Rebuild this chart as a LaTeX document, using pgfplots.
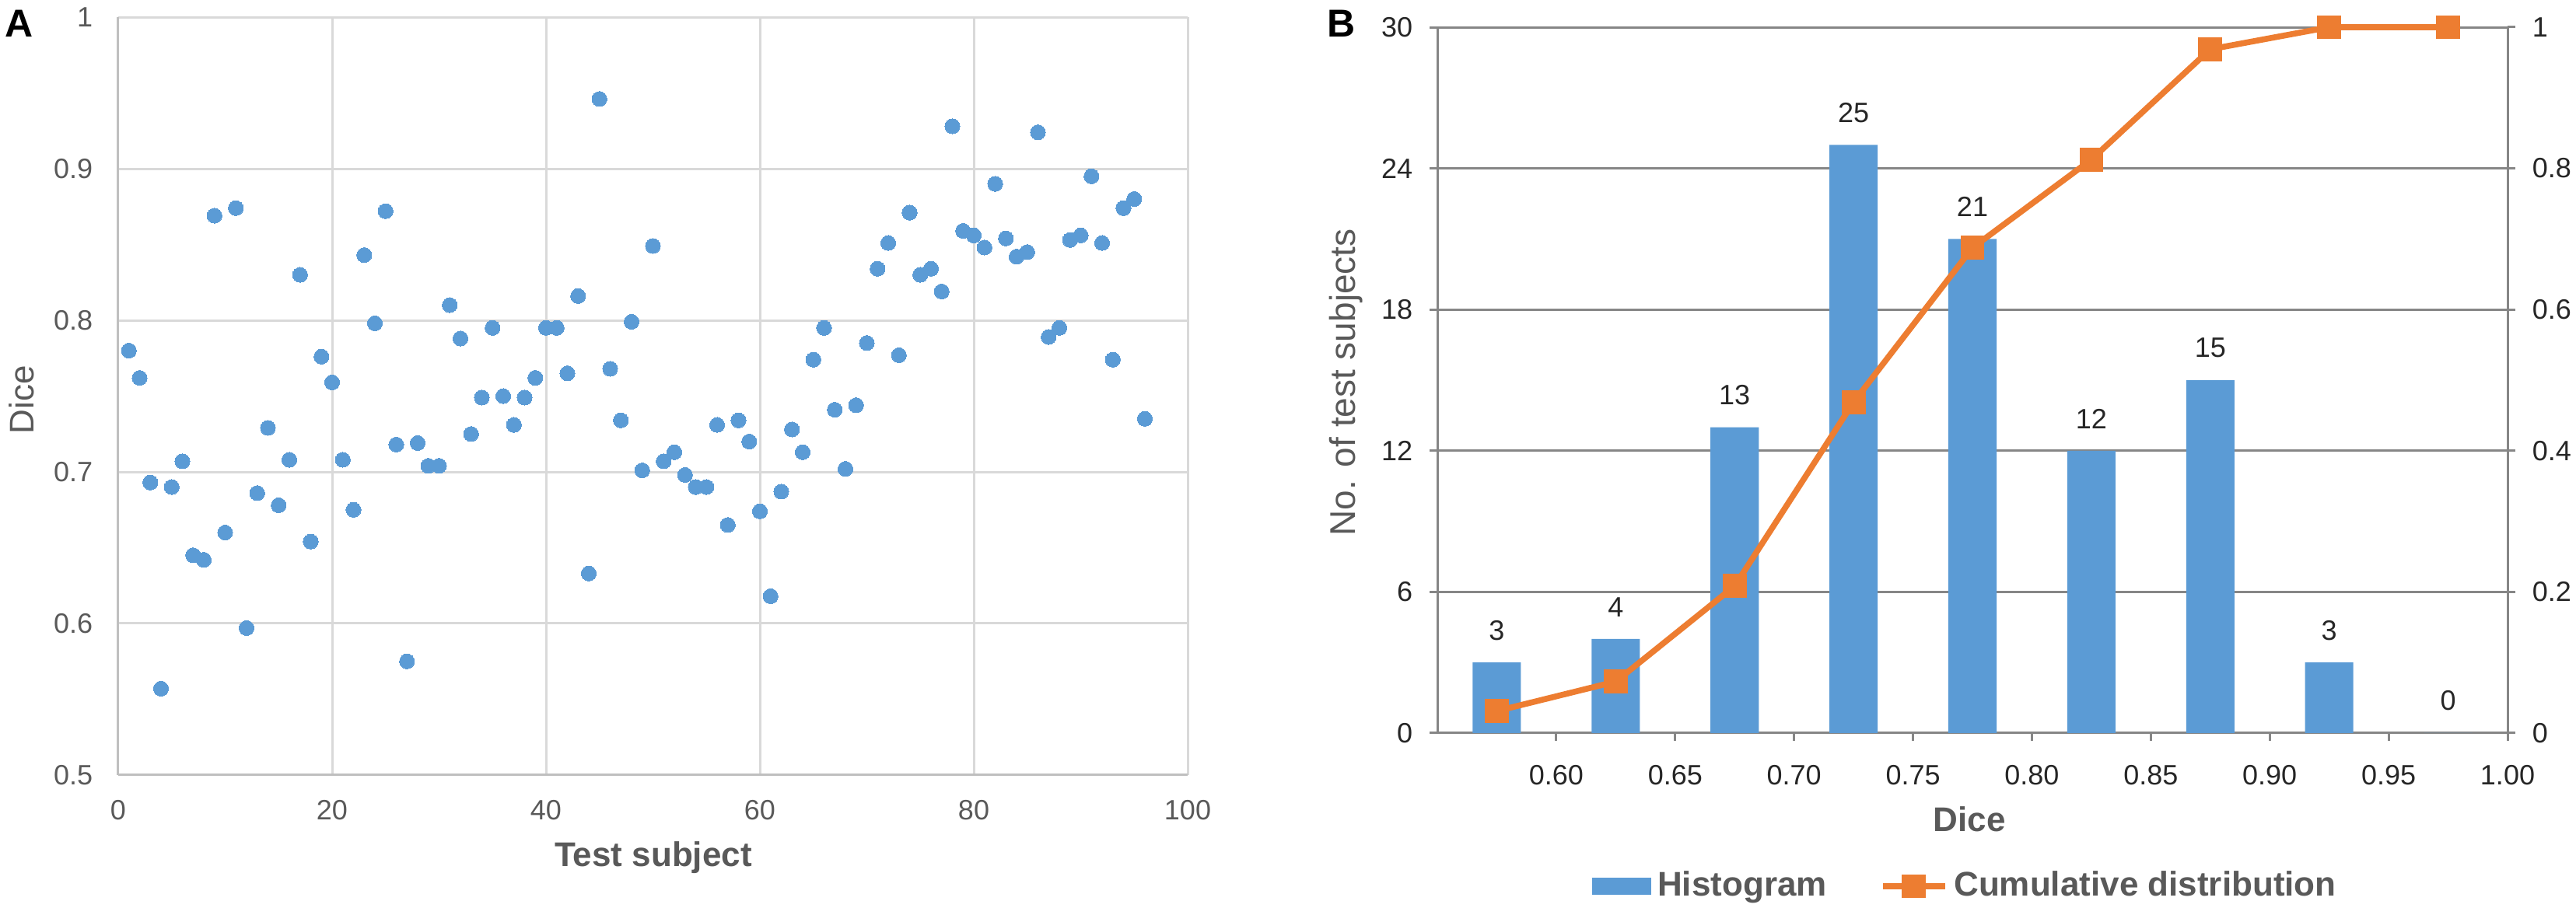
\documentclass[border=0pt]{standalone}
\usepackage{pgfplots}
\pgfplotsset{compat=1.18}
\usepackage{fontspec}
\setmainfont{Liberation Sans}
\definecolor{dotblue}{HTML}{5B9BD5}
\definecolor{lineorange}{HTML}{ED7D31}
\definecolor{gridA}{HTML}{D9D9D9}
\definecolor{axisA}{HTML}{BFBFBF}
\definecolor{axisB}{HTML}{868686}
\definecolor{labgray}{HTML}{595959}
\definecolor{tickB}{HTML}{262626}
\pgfplotsset{/pgf/number format/assume math mode=true}
\newcommand{\fs}[1]{\fontsize{#1}{#1}\selectfont}
\pgfplotstableread{
x y
1 0.780
2 0.762
3 0.693
4 0.557
5 0.690
6 0.707
7 0.645
8 0.642
9 0.869
10 0.660
11 0.874
12 0.597
13 0.686
14 0.729
15 0.678
16 0.708
17 0.830
18 0.654
19 0.776
20 0.759
21 0.708
22 0.675
23 0.843
24 0.798
25 0.872
26 0.718
27 0.575
28 0.719
29 0.704
30 0.704
31 0.810
32 0.788
33 0.725
34 0.749
35 0.795
36 0.750
37 0.731
38 0.749
39 0.762
40 0.795
41 0.795
42 0.765
43 0.816
44 0.633
45 0.946
46 0.768
47 0.734
48 0.799
49 0.701
50 0.849
51 0.707
52 0.713
53 0.698
54 0.690
55 0.690
56 0.731
57 0.665
58 0.734
59 0.720
60 0.674
61 0.618
62 0.687
63 0.728
64 0.713
65 0.774
66 0.795
67 0.741
68 0.702
69 0.744
70 0.785
71 0.834
72 0.851
73 0.777
74 0.871
75 0.830
76 0.834
77 0.819
78 0.928
79 0.859
80 0.856
81 0.848
82 0.890
83 0.854
84 0.842
85 0.845
86 0.924
87 0.789
88 0.795
89 0.853
90 0.856
91 0.895
92 0.851
93 0.774
94 0.874
95 0.880
96 0.735
}\dicedata
\pgfplotstableread{
x n
0.575 3
0.625 4
0.675 13
0.725 25
0.775 21
0.825 12
0.875 15
0.925 3
0.975 0
}\histdata
\pgfplotstableread{
x c
0.575 0.03125
0.625 0.07292
0.675 0.20833
0.725 0.46875
0.775 0.6875
0.825 0.8125
0.875 0.96875
0.925 1
0.975 1
}\cumdata
\begin{document}
\begin{tikzpicture}
\useasboundingbox (0,0) rectangle (828pt,292pt);
% ---------------- Panel A ----------------
\begin{axis}[
  at={(38pt,42.75pt)}, anchor=south west,
  scale only axis, width=343.75pt, height=243.75pt,
  xmin=0, xmax=100, ymin=0.5, ymax=1,
  xtick={0,20,40,60,80,100}, ytick={0.5,0.6,0.7,0.8,0.9,1},
  axis lines*=left,
  axis line style={axisA, line width=0.75pt},
  major tick length=0pt,
  grid=major, major grid style={gridA, line width=0.75pt},
  tick label style={font=\fs{9}, text=labgray, inner sep=0pt},
  yticklabel style={xshift=-8pt},
  xticklabel style={yshift=-8pt},
]
\addplot[dotblue, only marks, mark=*, mark size=2.4pt, mark options={fill=dotblue, draw=dotblue, line width=0pt}] table[x=x, y=y] {\dicedata};
\end{axis}
\node[font=\bfseries\fs{12.5}, text=black] at (6.25pt,284.5pt) {A};
\node[font=\fs{11}, text=labgray, rotate=90] at (7pt,163.5pt) {Dice};
\node[font=\bfseries\fs{11}, text=labgray] at (210pt,16.25pt) {Test subject};
% ---------------- Panel B ----------------
\begin{axis}[
  at={(462pt,56.25pt)}, anchor=south west,
  scale only axis, width=344pt, height=227pt,
  xmin=0.55, xmax=1.0, ymin=0, ymax=30,
  axis lines*=left,
  axis line style={axisB, line width=0.75pt},
  ytick={0,6,12,18,24,30},
  xtick={0.6,0.65,0.7,0.75,0.8,0.85,0.9,0.95,1.0},
  x tick label style={/pgf/number format/fixed, /pgf/number format/fixed zerofill, /pgf/number format/precision=2},
  tick style={axisB, line width=0.75pt}, major tick length=2.5pt,
  tick align=inside,
  y tick style={xshift=-2.5pt},
  ymajorgrids, major grid style={axisB, line width=0.75pt},
  tick label style={font=\fs{9}, text=tickB, inner sep=0pt},
  yticklabel style={xshift=-7.75pt},
  xticklabel style={yshift=-7.75pt},
  ybar, bar width=0.0203, bar shift=0pt,
  nodes near coords,
  every node near coord/.append style={font=\fs{9}, text=tickB, inner sep=0pt, anchor=south, yshift=7pt},
]
\addplot[fill=dotblue, draw=none] table[x=x, y=n] {\histdata};
\end{axis}
\begin{axis}[
  at={(462pt,56.25pt)}, anchor=south west,
  scale only axis, width=344pt, height=227pt,
  xmin=0.55, xmax=1.0, ymin=0, ymax=1,
  axis x line=none, axis y line*=right,
  axis line style={axisB, line width=0.75pt},
  ytick={0,0.2,0.4,0.6,0.8,1},
  tick style={axisB, line width=0.75pt}, major tick length=2.5pt,
  tick align=inside,
  y tick style={xshift=2.5pt},
  tick label style={font=\fs{9}, text=tickB, inner sep=0pt},
  yticklabel style={xshift=7.75pt},
  clip=false,
  legend columns=2,
  legend cell align=left,
  legend style={at={(axis description cs:0.495,-0.217)}, anchor=center,
    draw=none, fill=none, font=\bfseries\fs{11}, text=labgray,
    /tikz/every even column/.append style={column sep=15pt}},
]
\addlegendimage{legend image code/.code={\fill[dotblue] (0pt,-2.5pt) rectangle (18.75pt,2.5pt);}}
\addlegendentry{Histogram}
\addplot[lineorange, line width=1.9pt, mark=square*, mark size=2.9pt,
  mark options={solid, fill=lineorange, draw=none},
  legend image code/.code={\draw[lineorange, line width=1.9pt] (0pt,0pt) -- (20pt,0pt);
    \fill[lineorange] (7.1pt,-2.9pt) rectangle (12.9pt,2.9pt);}]
  table[x=x, y=c] {\cumdata};
\addlegendentry{Cumulative distribution}
\end{axis}
\node[font=\bfseries\fs{12.5}, text=black] at (431.25pt,284.5pt) {B};
\node[font=\fs{11.5}, text=labgray, rotate=90] at (432.75pt,169pt) {No. of test subjects};
\node[font=\bfseries\fs{11}, text=labgray] at (633pt,28.5pt) {Dice};
\end{tikzpicture}
\end{document}
